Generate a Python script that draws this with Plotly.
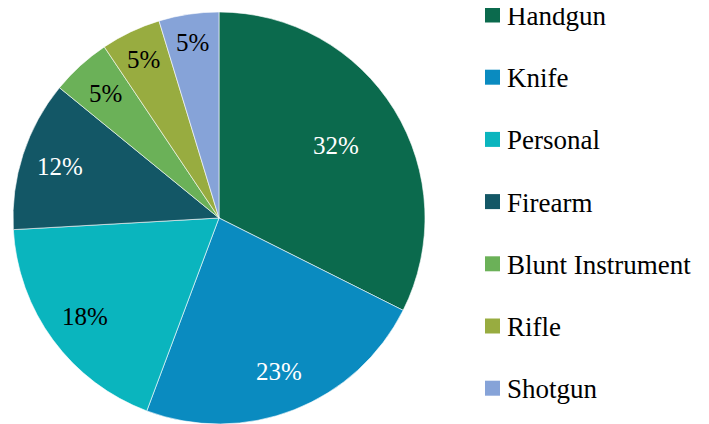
import math
import plotly.graph_objects as go

# slices, clockwise from 12 o'clock
labels = ["Handgun", "Knife", "Personal", "Firearm", "Blunt Instrument", "Rifle", "Shotgun"]
values = [32.4, 23.3, 18.4, 11.8, 4.7, 4.7, 4.7]

colors = ["#0b6a4d", "#0a8bc0", "#0ab5be", "#135766", "#6bb158", "#98ac40", "#86a3d8"]
text_colors = ["white", "white", "black", "white", "black", "black", "black"]
# how far out (fraction of radius) each percentage label sits
label_radius = [0.67, 0.80, 0.81, 0.81, 0.82, 0.85, 0.86]

FONT = "Liberation Serif"
W, H = 709, 424
OFF = 8  # page body margin shifts the plot by this much
dom_x = [0.0014, 0.5938]
dom_y = [0.0189, 0.9906]

fig = go.Figure()

fig.add_trace(go.Pie(
    labels=labels,
    values=values,
    sort=False,
    direction="clockwise",
    rotation=0,
    marker=dict(colors=colors, line=dict(color="white", width=0.6)),
    textinfo="none",
    domain=dict(x=dom_x, y=dom_y),
    showlegend=False,
    hoverinfo="label+percent",
))

# percentage labels placed along each slice's middle angle
cx = (dom_x[0] + dom_x[1]) / 2 * W
cy = (dom_y[0] + dom_y[1]) / 2 * H
r = min((dom_x[1] - dom_x[0]) * W, (dom_y[1] - dom_y[0]) * H) / 2
total = sum(values)
cum = 0
for v, tc, fr in zip(values, text_colors, label_radius):
    mid = (cum + v / 2) / total * 2 * math.pi
    cum += v
    px = cx + fr * r * math.sin(mid)
    py = cy + fr * r * math.cos(mid)
    fig.add_annotation(
        x=px / W, y=py / H, xref="paper", yref="paper",
        xanchor="center", yanchor="middle",
        text=f"{round(v / total * 100)}%",
        showarrow=False,
        font=dict(family=FONT, size=25, color=tc),
    )

# legend on the right: coloured square + name, one row per slice
leg_x, leg_top, leg_step, sq = 485 - OFF, 15 - OFF, 62.2, 15
for i, (lab, col) in enumerate(zip(labels, colors)):
    yc = leg_top + i * leg_step
    fig.add_shape(
        type="rect", xref="paper", yref="paper",
        x0=leg_x / W, x1=(leg_x + sq) / W,
        y0=1 - (yc - sq / 2) / H, y1=1 - (yc + sq / 2) / H,
        fillcolor=col, line=dict(width=0),
    )
    fig.add_annotation(
        x=(leg_x + sq + 5) / W, y=1 - (yc + 1) / H,
        xref="paper", yref="paper",
        xanchor="left", yanchor="middle",
        text=lab, showarrow=False,
        font=dict(family=FONT, size=27, color="black"),
    )

fig.update_layout(
    width=W, height=H,
    margin=dict(l=0, r=0, t=0, b=0, autoexpand=False),
    paper_bgcolor="white",
    plot_bgcolor="white",
    showlegend=False,
)

fig.write_html("out.html")
